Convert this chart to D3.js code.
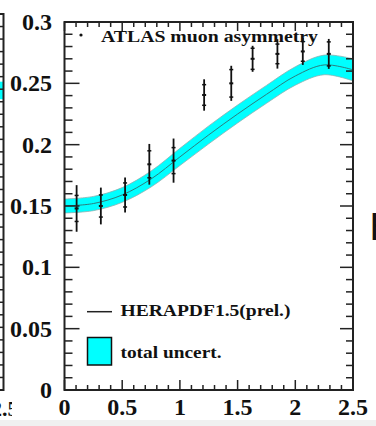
<!DOCTYPE html>
<html>
<head>
<meta charset="utf-8">
<script src="https://cdn.jsdelivr.net/npm/d3@7"></script>
<style>
  body { margin: 0; background: #fff; }
  svg { display: block; }
  .lbl { font-family: "Liberation Serif", "Times New Roman", serif; font-weight: bold; fill: #111; }
</style>
</head>
<body>
<svg id="chart" width="376" height="426"></svg>
<script>
// data
const etaBins = [0.105, 0.315, 0.525, 0.735, 0.945, 1.21, 1.445, 1.63, 1.845, 2.065, 2.29];
const asym = [0.148, 0.150, 0.159, 0.184, 0.187, 0.2405, 0.250, 0.270, 0.274, 0.276, 0.274];
const totErr = [0.019, 0.015, 0.0143, 0.0166, 0.018, 0.0128, 0.0143, 0.0106, 0.012, 0.011, 0.0122];
const statErr = [0.0106, 0.009, 0.0098, 0.011, 0.0106, 0.0084, 0.0112, 0.0086, 0.008, 0.008, 0.0098];

const bandEta = [0, 0.25, 0.5, 0.75, 1, 1.25, 1.5, 1.75, 2, 2.25, 2.5];
const bandCentral = [0.150, 0.152, 0.159, 0.172, 0.190, 0.208, 0.225, 0.241, 0.256, 0.265, 0.261];
const bandHalf = [0.0057, 0.0058, 0.006, 0.0065, 0.007, 0.0073, 0.0073, 0.0073, 0.0075, 0.008, 0.009];

const xTickLabels = ["0", "0.5", "1", "1.5", "2", "2.5"];
const yTickLabels = ["0", "0.05", "0.1", "0.15", "0.2", "0.25", "0.3"];

const legendLabels = ["ATLAS muon asymmetry", "HERAPDF1.5(prel.)", "total uncert."];

const svg = d3.select("#chart");

// frame
const pLeft = 64.5, pRight = 353, pTop = 22, pBottom = 390;
const x = d3.scaleLinear().domain([0, 2.5]).range([pLeft, pRight]);
const y = d3.scaleLinear().domain([0, 0.3]).range([pBottom, pTop]);

// bits of the neighbouring panels that are cut by the picture
svg.append("defs").append("clipPath").attr("id", "prevclip")
    .append("rect").attr("x", 0).attr("y", 0).attr("width", 12).attr("height", 426);
svg.append("rect").attr("x", 0).attr("y", 420).attr("width", 376).attr("height", 6).attr("fill", "#f0f0f0");
const yPrev = d3.scaleLinear().domain([0, 0.3]).range([390, 14]);
svg.append("rect").attr("x", 0).attr("y", yPrev(0.246)).attr("width", 3.5)
    .attr("height", yPrev(0.232) - yPrev(0.246)).attr("fill", "#00ffff");
svg.append("path").attr("d", "M0," + yPrev(0.3) + "H3.5V" + yPrev(0) + "H0")
    .attr("fill", "none").attr("stroke", "#222").attr("stroke-width", 2);
svg.selectAll(".prevtick").data(yPrev.ticks(30)).join("line")
    .attr("x1", 0).attr("x2", 3.5)
    .attr("y1", d => yPrev(d)).attr("y2", d => yPrev(d))
    .attr("stroke", "#222").attr("stroke-width", 1.5);
svg.append("text").attr("class", "lbl").attr("x", -9).attr("y", 416)
    .attr("clip-path", "url(#prevclip)")
    .style("font-size", "22px").text("2.5");
svg.append("text").attr("x", 369).attr("y", 240)
    .style("font-family", "DejaVu Sans").style("font-size", "37px").attr("fill", "#111").text("H");

//1. uncertainty band and central curve
const band = bandEta.map((e, i) => ({ eta: e, c: bandCentral[i], h: bandHalf[i] }));

const area = d3.area()
    .x(d => x(d.eta))
    .y0(d => y(d.c - d.h))
    .y1(d => y(d.c + d.h))
    .curve(d3.curveCatmullRom);

svg.append("path").datum(band)
    .attr("d", area)
    .attr("fill", "#00ffff")
    .attr("stroke", "#8fb0b0")
    .attr("stroke-width", 0.8);

const line = d3.line()
    .x(d => x(d.eta))
    .y(d => y(d.c))
    .curve(d3.curveCatmullRom);

svg.append("path").datum(band)
    .attr("d", line)
    .attr("fill", "none")
    .attr("stroke", "#2e7d7d")
    .attr("stroke-width", 1);

//2. data points with error bars
const pts = etaBins.map((e, i) => ({ eta: e, a: asym[i], tot: totErr[i], st: statErr[i] }));

const pt = svg.selectAll(".pt").data(pts).join("g").attr("class", "pt");

pt.append("line")
    .attr("x1", d => x(d.eta)).attr("x2", d => x(d.eta))
    .attr("y1", d => y(d.a + d.tot)).attr("y2", d => y(d.a - d.tot))
    .attr("stroke", "#111").attr("stroke-width", 1.8);

[-1, 1].forEach(s => {
    pt.append("line")
        .attr("x1", d => x(d.eta) - 2).attr("x2", d => x(d.eta) + 2)
        .attr("y1", d => y(d.a + s * d.st)).attr("y2", d => y(d.a + s * d.st))
        .attr("stroke", "#111").attr("stroke-width", 1.5);
});

pt.append("rect")
    .attr("x", d => x(d.eta) - 2).attr("y", d => y(d.a) - 1)
    .attr("width", 4).attr("height", 2)
    .attr("fill", "#111");

//3. frame and ticks, all pointing inwards
svg.append("rect")
    .attr("x", pLeft).attr("y", pTop)
    .attr("width", pRight - pLeft).attr("height", pBottom - pTop)
    .attr("fill", "none").attr("stroke", "#222").attr("stroke-width", 2);

const yt = y.ticks(30);
const xt = x.ticks(25);
const yMajor = d => Math.abs(d / 0.05 - Math.round(d / 0.05)) < 1e-6;
const xMajor = d => Math.abs(d / 0.5 - Math.round(d / 0.5)) < 1e-6;

svg.selectAll(".ytl").data(yt).join("line")
    .attr("x1", pLeft).attr("x2", d => pLeft + (yMajor(d) ? 15 : 8))
    .attr("y1", d => y(d)).attr("y2", d => y(d))
    .attr("stroke", "#222").attr("stroke-width", 1.5);
svg.selectAll(".ytr").data(yt).join("line")
    .attr("x1", pRight).attr("x2", d => pRight - (yMajor(d) ? 13 : 7))
    .attr("y1", d => y(d)).attr("y2", d => y(d))
    .attr("stroke", "#222").attr("stroke-width", 1.5);
svg.selectAll(".xtb").data(xt).join("line")
    .attr("x1", d => x(d)).attr("x2", d => x(d))
    .attr("y1", pBottom).attr("y2", d => pBottom - (xMajor(d) ? 10 : 5))
    .attr("stroke", "#222").attr("stroke-width", 1.5);
svg.selectAll(".xtt").data(xt).join("line")
    .attr("x1", d => x(d)).attr("x2", d => x(d))
    .attr("y1", pTop).attr("y2", d => pTop + (xMajor(d) ? 9 : 5))
    .attr("stroke", "#222").attr("stroke-width", 1.5);

// tick labels
svg.selectAll(".ylab").data(yTickLabels).join("text")
    .attr("class", "lbl")
    .attr("x", 52)
    .attr("y", d => y(+d))
    .attr("dy", "0.34em")
    .attr("text-anchor", "end")
    .style("font-size", "24px")
    .text(d => d);

svg.selectAll(".xlab").data(xTickLabels).join("text")
    .attr("class", "lbl")
    .attr("x", d => x(+d))
    .attr("y", 415)
    .attr("text-anchor", "middle")
    .style("font-size", "24px")
    .text(d => d);

//4. legend
svg.append("circle").attr("cx", 81).attr("cy", 35).attr("r", 1.6).attr("fill", "#111");
svg.append("text").attr("class", "lbl")
    .attr("x", 101).attr("y", 41.5)
    .attr("textLength", 217).attr("lengthAdjust", "spacingAndGlyphs")
    .style("font-size", "16px").text(legendLabels[0]);

svg.append("line").attr("x1", 87).attr("x2", 112).attr("y1", 311.7).attr("y2", 311.7)
    .attr("stroke", "#222").attr("stroke-width", 1.5);
svg.append("text").attr("class", "lbl")
    .attr("x", 120.5).attr("y", 316)
    .attr("textLength", 170).attr("lengthAdjust", "spacingAndGlyphs")
    .style("font-size", "16px").text(legendLabels[1]);

svg.append("rect").attr("x", 87.5).attr("y", 337.5).attr("width", 24).attr("height", 27.5)
    .attr("fill", "#00ffff").attr("stroke", "#111").attr("stroke-width", 1.5);
svg.append("text").attr("class", "lbl")
    .attr("x", 120.5).attr("y", 357.5)
    .attr("textLength", 101).attr("lengthAdjust", "spacingAndGlyphs")
    .style("font-size", "16px").text(legendLabels[2]);
</script>
</body>
</html>
